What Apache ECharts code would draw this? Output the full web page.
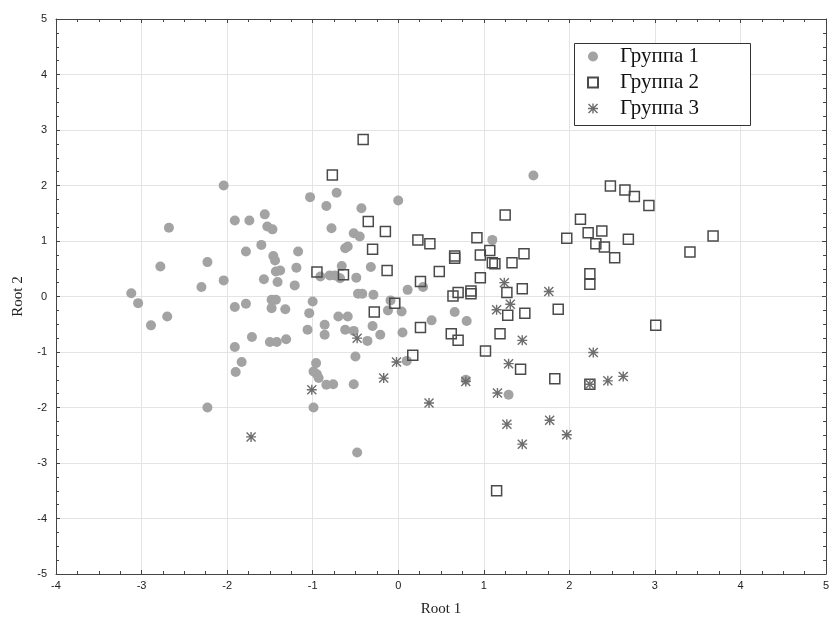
<!DOCTYPE html>
<html>
<head>
<meta charset="utf-8">
<script src="https://cdn.jsdelivr.net/npm/echarts@6/dist/echarts.min.js"></script>
<style>
html,body{margin:0;padding:0;background:#fff;}
#chart{width:829px;height:617px;}
</style>
</head>
<body>
<div id="chart"></div>
<script>
// ---- data ----
const seriesNames = ['Группа 1', 'Группа 2', 'Группа 3'];
const xAxisName = 'Root 1';
const yAxisName = 'Root 2';
const xRange = [-4, 5];
const yRange = [-5, 5];

const group1 = [
  [-2.04,2.0],[-2.68,1.24],[-1.91,1.37],[-1.74,1.37],[-1.56,1.48],[-1.53,1.26],[-1.47,1.21],
  [-1.60,0.93],[-1.78,0.81],[-1.46,0.73],[-1.44,0.65],[-1.17,0.81],[-1.19,0.52],[-2.23,0.62],
  [-2.78,0.54],[-2.30,0.17],[-2.04,0.29],[-1.57,0.31],[-1.43,0.45],[-1.38,0.47],[-1.41,0.26],
  [-1.21,0.20],[-3.12,0.06],[-3.04,-0.12],[-2.70,-0.36],[-2.89,-0.52],[-1.91,-0.19],[-1.78,-0.13],
  [-1.48,-0.06],[-1.43,-0.06],[-1.48,-0.21],[-1.32,-0.23],[-1.71,-0.73],[-1.50,-0.82],[-1.42,-0.82],
  [-1.31,-0.77],[-1.91,-0.91],[-1.83,-1.18],[-1.90,-1.36],[-2.23,-2.0],
  [-1.03,1.79],[-0.72,1.87],[-0.84,1.63],[-0.43,1.59],[0.0,1.73],[-0.78,1.23],[-0.52,1.14],
  [-0.45,1.08],[-0.62,0.87],[-0.59,0.90],[-0.66,0.55],[-0.32,0.53],[-0.91,0.36],[-0.80,0.38],
  [-0.74,0.38],[-0.68,0.33],[-0.49,0.34],[-0.47,0.05],[-0.42,0.05],[-0.29,0.03],[0.11,0.12],
  [0.29,0.17],[-0.09,-0.07],[-1.0,-0.09],[-1.04,-0.30],[-0.70,-0.36],[-0.59,-0.36],[-0.12,-0.25],
  [0.04,-0.27],[-0.86,-0.51],[-1.06,-0.60],[-0.86,-0.69],[-0.62,-0.60],[-0.52,-0.62],[-0.30,-0.53],
  [-0.21,-0.69],[0.05,-0.65],[0.39,-0.43],[0.66,-0.28],[0.80,-0.44],[-0.36,-0.80],[-0.50,-1.08],
  [0.10,-1.16],[-0.96,-1.20],[-0.99,-1.35],[-0.95,-1.40],[-0.93,-1.47],[-0.84,-1.59],[-0.76,-1.58],
  [-0.52,-1.58],[-0.99,-2.0],[-0.48,-2.81],[0.79,-1.50],
  [1.58,2.18],[1.10,1.02],[1.29,-1.77]
];

const group2 = [
  [-0.41,2.83],[-0.77,2.19],[-0.35,1.35],[-0.15,1.17],[0.23,1.02],[0.37,0.95],[-0.30,0.85],
  [0.92,1.06],[0.66,0.73],[0.66,0.69],[0.96,0.75],[-0.95,0.44],[-0.64,0.39],[-0.13,0.47],
  [0.48,0.45],[0.26,0.27],[0.96,0.34],[0.64,0.01],[0.70,0.07],[0.85,0.10],[0.85,0.05],
  [-0.04,-0.12],[-0.28,-0.28],[0.26,-0.56],[0.62,-0.67],[0.70,-0.79],[0.17,-1.06],
  [2.48,1.99],[2.65,1.92],[2.76,1.80],[1.25,1.47],[2.13,1.39],[2.22,1.15],[2.38,1.18],
  [2.31,0.95],[2.41,0.89],[1.97,1.05],[2.69,1.03],[2.53,0.70],[1.07,0.83],[1.10,0.61],
  [1.13,0.59],[1.33,0.61],[1.47,0.77],[2.24,0.41],[2.24,0.22],[1.27,0.07],[1.45,0.14],
  [1.87,-0.23],[1.28,-0.34],[1.48,-0.30],[1.19,-0.67],[1.02,-0.98],[1.43,-1.31],[1.83,-1.48],
  [2.24,-1.58],[1.15,-3.50],
  [3.68,1.09],[3.41,0.80],[3.01,-0.52],[2.93,1.64]
];

const group3 = [
  [-1.72,-2.53],[-0.48,-0.75],[-0.02,-1.18],[-0.17,-1.47],[-1.01,-1.68],[0.36,-1.92],[0.79,-1.53],
  [1.24,0.25],[1.76,0.09],[1.31,-0.14],[1.15,-0.24],[1.45,-0.79],[1.29,-1.21],[1.16,-1.74],
  [2.28,-1.01],[2.24,-1.58],[2.45,-1.52],[2.63,-1.44],[1.27,-2.30],[1.77,-2.23],[1.97,-2.49],
  [1.45,-2.66]
];

// ---- styling ----
const asterisk = 'path://M43 0L57 0L57 100L43 100Z M0 43L100 43L100 57L0 57Z M10 0L100 90L90 100L0 10Z M90 0L100 10L10 100L0 90Z';
const axisColor = '#444';
const gridColor = '#e4e4e4';
const labelFont = {fontFamily: 'Liberation Sans, Arial, sans-serif', fontSize: 11, color: '#222'};
const titleFont = {fontFamily: 'Liberation Serif, Times New Roman, serif', fontSize: 15, color: '#222'};

function mkX(pos, main) {
  return {
    type: 'value', position: pos, min: xRange[0], max: xRange[1], interval: 1,
    axisLine: {show: true, onZero: false, lineStyle: {color: axisColor, width: 1}},
    axisTick: {show: true, inside: true, length: 4, lineStyle: {color: axisColor}},
    minorTick: {show: true, splitNumber: 4, length: 3, lineStyle: {color: axisColor}},
    axisLabel: main ? Object.assign({margin: 6}, labelFont) : {show: false},
    splitLine: {show: main, lineStyle: {color: gridColor, width: 1}},
    name: main ? xAxisName : '', nameLocation: 'middle', nameGap: 28,
    nameTextStyle: titleFont
  };
}
function mkY(pos, main) {
  return {
    type: 'value', position: pos, min: yRange[0], max: yRange[1], interval: 1,
    axisLine: {show: true, onZero: false, lineStyle: {color: axisColor, width: 1}},
    axisTick: {show: true, inside: true, length: 4, lineStyle: {color: axisColor}},
    minorTick: {show: true, splitNumber: 4, length: 3, lineStyle: {color: axisColor}},
    axisLabel: main ? Object.assign({margin: 9}, labelFont) : {show: false},
    splitLine: {show: main, lineStyle: {color: gridColor, width: 1}},
    name: main ? yAxisName : '', nameLocation: 'middle', nameGap: 30,
    nameTextStyle: titleFont
  };
}

const chart = echarts.init(document.getElementById('chart'), null, {renderer: 'canvas'});
chart.setOption({
  animation: false,
  backgroundColor: '#fff',
  grid: {left: 56, top: 19, right: 3, bottom: 43, show: false, containLabel: false, outerBoundsMode: 'none'},
  xAxis: [mkX('bottom', true), mkX('top', false)],
  yAxis: [mkY('left', true), mkY('right', false)],
  graphic: [{
    type: 'rect', z: 10,
    shape: {x: 574.5, y: 43.5, width: 176, height: 82},
    style: {fill: '#fff', stroke: '#333', lineWidth: 1}
  }],
  legend: {
    z: 20, orient: 'vertical', left: 587, top: 46, padding: 0,
    itemWidth: 10, itemHeight: 10, itemGap: 5,
    textStyle: {fontFamily: 'Liberation Serif, Times New Roman, serif', fontSize: 21, color: '#111',
      lineHeight: 21, padding: [0, 0, 0, 17]},
    data: seriesNames
  },
  series: [
    {
      name: seriesNames[0], type: 'scatter', data: group1, symbol: 'circle', symbolSize: 10,
      itemStyle: {color: '#a3a3a3', opacity: 1}
    },
    {
      name: seriesNames[1], type: 'scatter', data: group2, symbol: 'rect', symbolSize: 10,
      itemStyle: {color: 'rgba(255,255,255,0)', borderColor: '#4a4a4a', borderWidth: 1.5, opacity: 1}
    },
    {
      name: seriesNames[2], type: 'scatter', data: group3, symbol: asterisk, symbolSize: 10,
      itemStyle: {color: '#6e6e6e', opacity: 1}
    }
  ]
});
</script>
</body>
</html>
